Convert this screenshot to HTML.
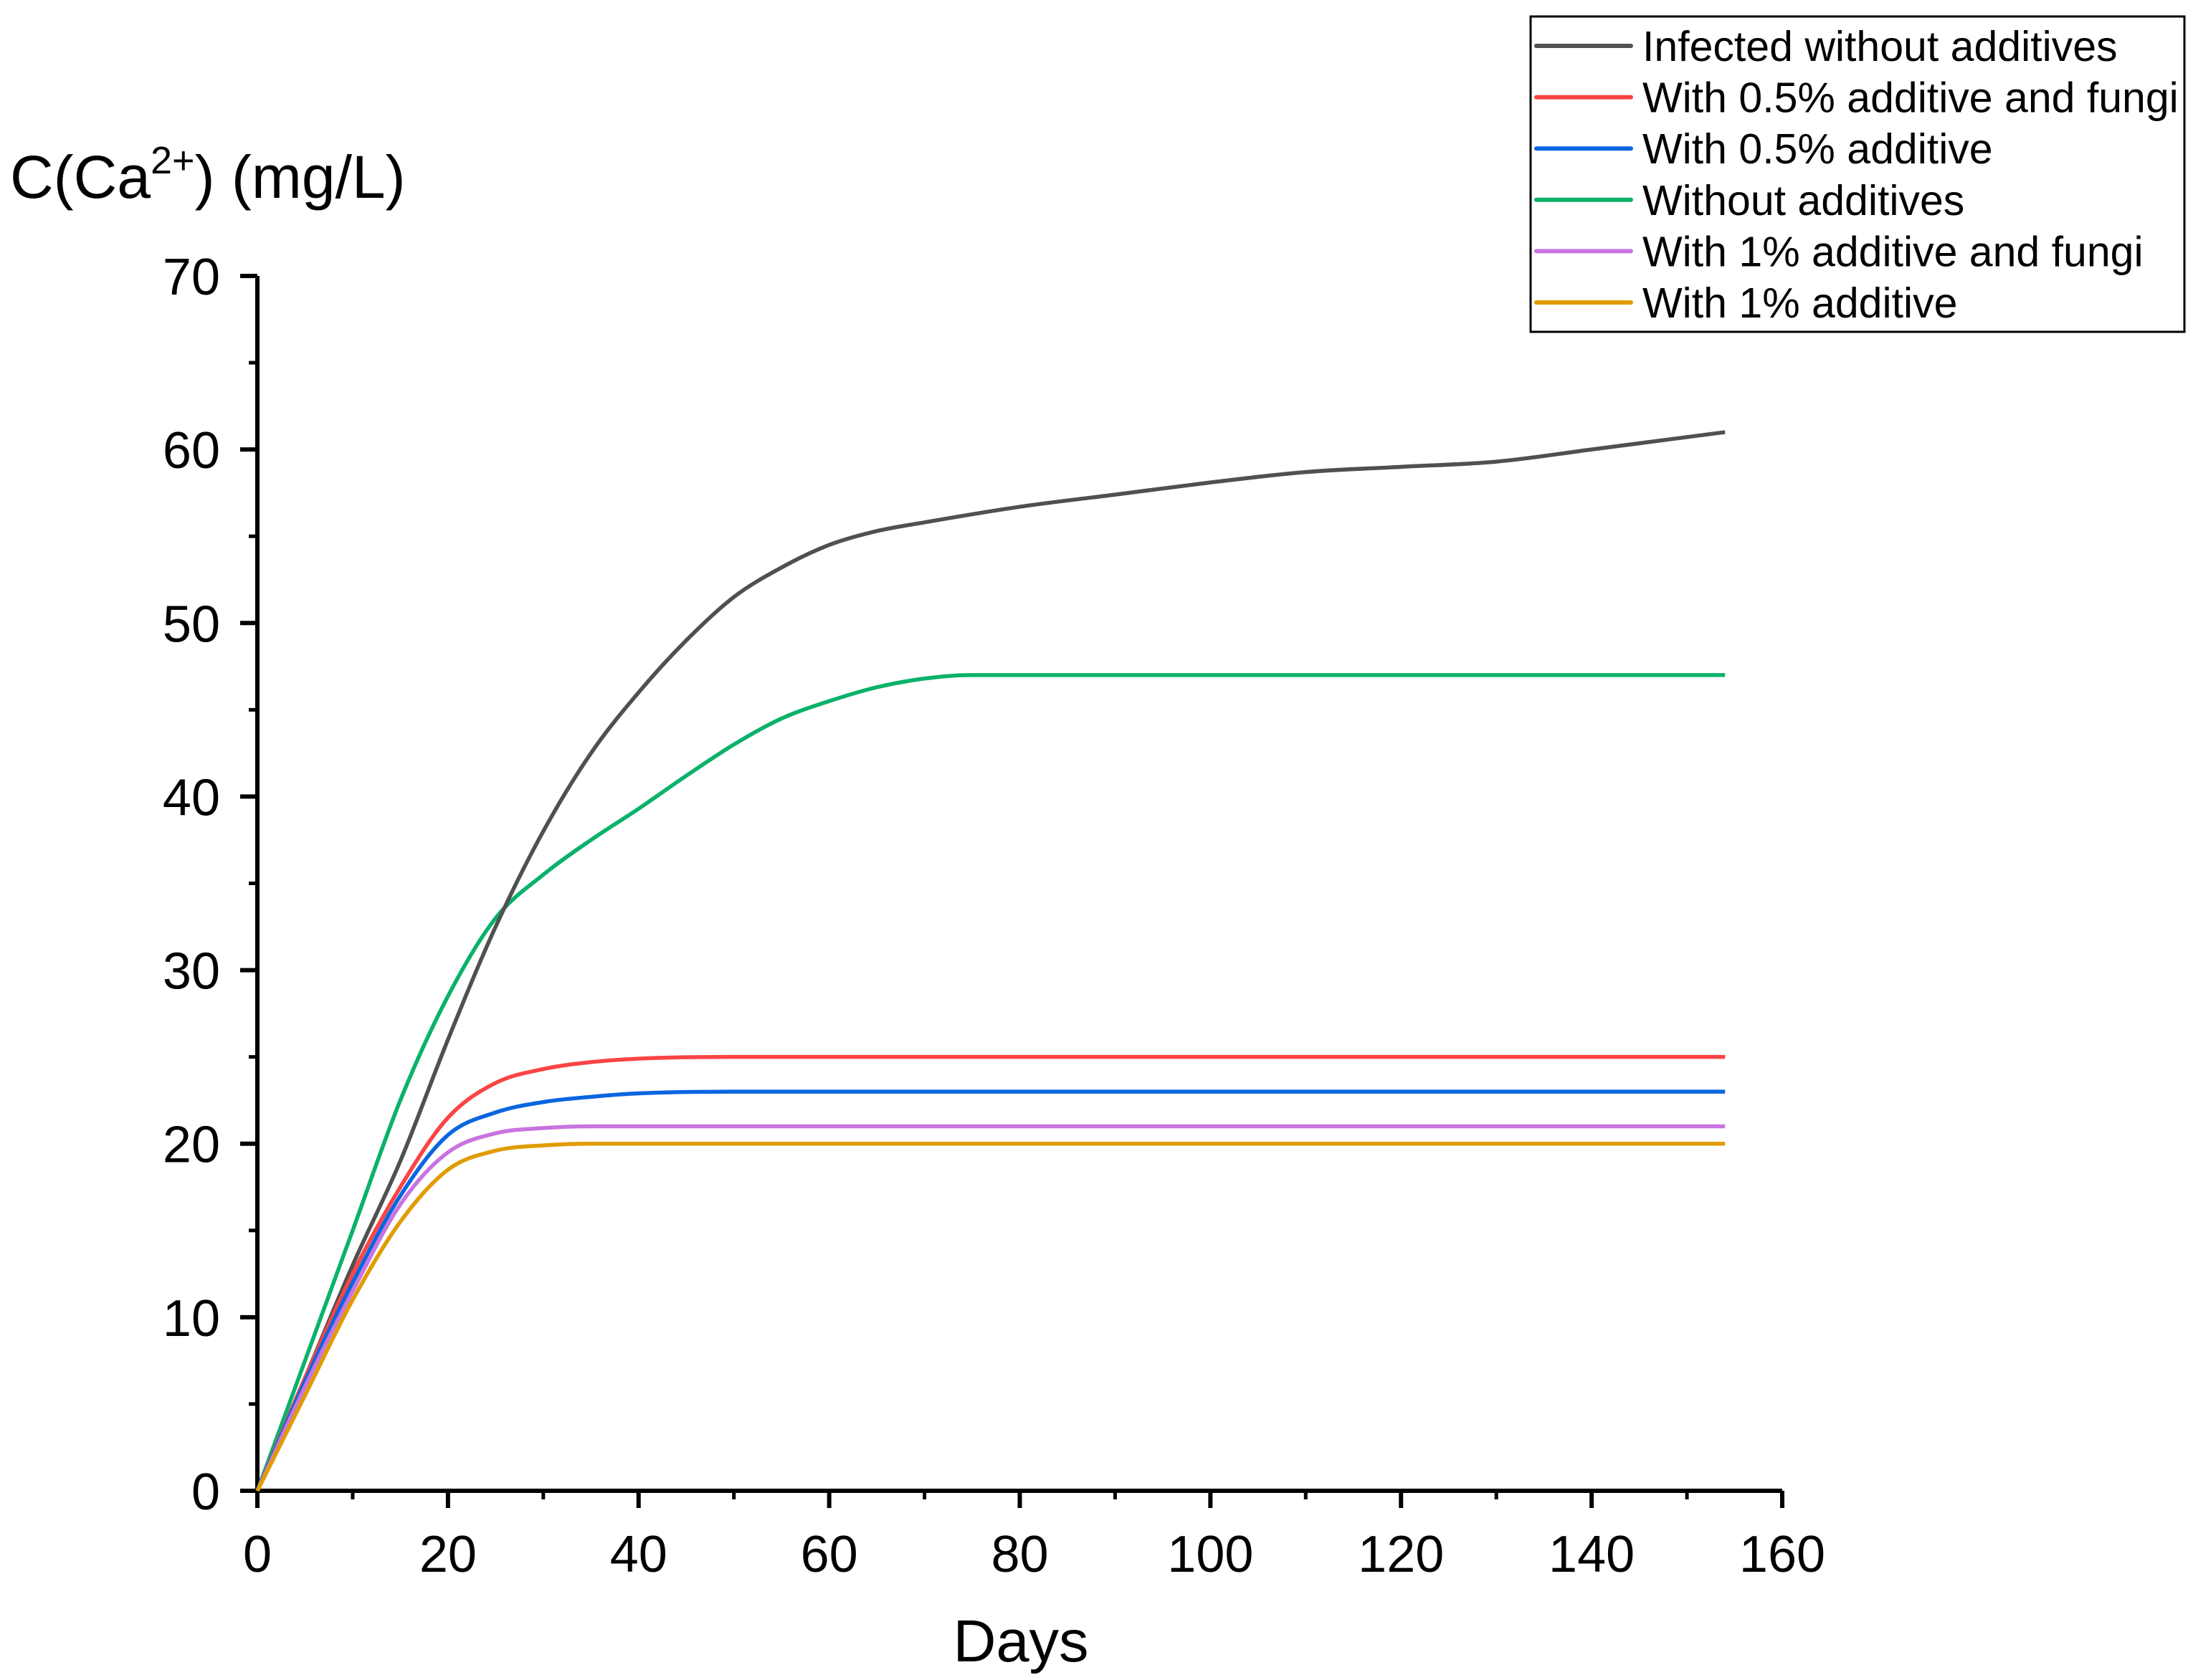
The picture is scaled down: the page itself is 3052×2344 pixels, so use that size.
<!DOCTYPE html>
<html><head><meta charset="utf-8"><style>
html,body{margin:0;padding:0;background:#fff}
svg{display:block;font-family:"Liberation Sans",Arial,sans-serif}
</style></head><body>
<svg id="chart" width="3052" height="2344" viewBox="0 0 3052 2344">
<g id="axes"></g>
<g id="series"></g>
<text x="14" y="276" font-size="84">C(Ca<tspan font-size="54" dy="-34">2+</tspan><tspan dy="34">) (mg/L)</tspan></text>
<text x="1424" y="2318" font-size="83" text-anchor="middle">Days</text>
<g id="legend">
<rect x="2135" y="23" width="912" height="440" fill="#fff" stroke="#000" stroke-width="3"/>
</g>
</svg>
<script>
const xTicks=[0,20,40,60,80,100,120,140,160];
const yTicks=[0,10,20,30,40,50,60,70];
const names=["Infected without additives","With 0.5% additive and fungi","With 0.5% additive","Without additives","With 1% additive and fungi","With 1% additive"];
const colors=["#505050","#fb4444","#0a66e0","#0ab26a","#c874e0","#e09c00"];
const infectedDays=[0,5,10,15,20,25,30,35,40,45,50,55,60,65,70,80,90,100,110,120,130,140,154];
const infectedVals=[0,6.5,13,19,26,32.5,38,42.5,46,49,51.5,53.2,54.5,55.3,55.8,56.7,57.4,58.1,58.7,59,59.3,60,61];
const withoutDays=[0,5,10,15,20,25,30,35,40,45,50,55,60,65,70,75,154];
const withoutVals=[0,7.5,15,22.5,28.5,33,35.5,37.5,39.3,41.2,43,44.5,45.5,46.3,46.8,47,47];
const red05Days=[0,5,10,15,20,25,30,35,40,50,154];
const red05Vals=[0,6.5,12.5,17.5,21.5,23.5,24.3,24.7,24.9,25,25];
const blue05Days=[0,5,10,15,20,25,30,35,40,50,154];
const blue05Vals=[0,6.3,12,17,20.5,21.8,22.4,22.7,22.9,23,23];
const purp1Days=[0,5,10,15,20,25,30,35,154];
const purp1Vals=[0,6,11.5,16.5,19.5,20.6,20.9,21,21];
const orange1Days=[0,5,10,15,20,25,30,35,154];
const orange1Vals=[0,5.5,11,15.5,18.5,19.6,19.9,20,20];
const seriesDays=[infectedDays,red05Days,blue05Days,withoutDays,purp1Days,orange1Days];
const seriesVals=[infectedVals,red05Vals,blue05Vals,withoutVals,purp1Vals,orange1Vals];
const X0=359,X1=2486,Y0=2080,Y1=385;
const sx=v=>X0+(v-0)/(160-0)*(X1-X0);
const sy=v=>Y0-(v-0)/(70-0)*(Y0-Y1);
const NS="http://www.w3.org/2000/svg";
function mk(tag,attrs,parent){const e=document.createElementNS(NS,tag);for(const k in attrs)e.setAttribute(k,attrs[k]);parent.appendChild(e);return e;}
const axes=document.getElementById('axes');
let a=mk('line',{x1:X0,y1:Y0,x2:X0,y2:Y1,stroke:'#000','stroke-width':6},axes);


a=mk('line',{x1:X0-3,y1:Y0,x2:X1,y2:Y0,stroke:'#000','stroke-width':6},axes);


xTicks.forEach((t,i)=>{
 const x=sx(t);
 const tk=mk('line',{x1:x,y1:Y0,x2:x,y2:Y0+24,stroke:'#000','stroke-width':6},axes);
 
 
 if(i<xTicks.length-1){const m=mk('line',{x1:sx(t+10),y1:Y0,x2:sx(t+10),y2:Y0+12,stroke:'#000','stroke-width':5},axes);
 
 }
 const tx=mk('text',{x:x,y:2193,'font-size':72,'text-anchor':'middle'},axes);tx.textContent=t;
 
 
});
yTicks.forEach((t,i)=>{
 const y=sy(t);
 const tk=mk('line',{x1:X0-24,y1:y,x2:X0,y2:y,stroke:'#000','stroke-width':6},axes);
 
 
 if(i<yTicks.length-1){const m=mk('line',{x1:X0-12,y1:sy(t+5),x2:X0,y2:sy(t+5),stroke:'#000','stroke-width':5},axes);
 
 }
 const tx=mk('text',{x:307,y:y+26,'font-size':72,'text-anchor':'end'},axes);tx.textContent=t;
 
 
});
// monotone cubic (Fritsch-Carlson) in screen coords
function smooth(pts){
 const n=pts.length,dx=[],m=[],t=[];
 for(let i=0;i<n-1;i++){dx[i]=pts[i+1][0]-pts[i][0];m[i]=(pts[i+1][1]-pts[i][1])/dx[i];}
 t[0]=m[0];t[n-1]=m[n-2];
 for(let i=1;i<n-1;i++){t[i]=(m[i-1]*m[i]<=0)?0:(m[i-1]+m[i])/2;}
 for(let i=0;i<n-1;i++){
  if(m[i]===0){t[i]=0;t[i+1]=0;continue;}
  const a=t[i]/m[i],b=t[i+1]/m[i],s=a*a+b*b;
  if(s>9){const k=3/Math.sqrt(s);t[i]=k*a*m[i];t[i+1]=k*b*m[i];}
 }
 let d='M'+pts[0][0]+','+pts[0][1];
 for(let i=0;i<n-1;i++){
  const h=dx[i]/3;
  d+=' C'+(pts[i][0]+h)+','+(pts[i][1]+t[i]*h)+' '+(pts[i+1][0]-h)+','+(pts[i+1][1]-t[i+1]*h)+' '+pts[i+1][0]+','+pts[i+1][1];
 }
 return d;
}
const sg=document.getElementById('series');
const order=[3,0,1,2,4,5];
order.forEach(i=>{
 const pts=seriesDays[i].map((d,j)=>[sx(d),sy(seriesVals[i][j])]);
 const p=mk('path',{d:smooth(pts),fill:'none',stroke:colors[i],'stroke-width':5.5,'stroke-linejoin':'round'},sg);
 
 
});
const lg=document.getElementById('legend');
names.forEach((n,i)=>{
 const y=64+i*71.6;
 const l=mk('line',{x1:2143,y1:y,x2:2275,y2:y,stroke:colors[i],'stroke-width':6,'stroke-linecap':'round'},lg);
 
 
 const t=mk('text',{x:2291,y:y+21,'font-size':59},lg);t.textContent=n;
 
 
});
</script>
</body></html>
